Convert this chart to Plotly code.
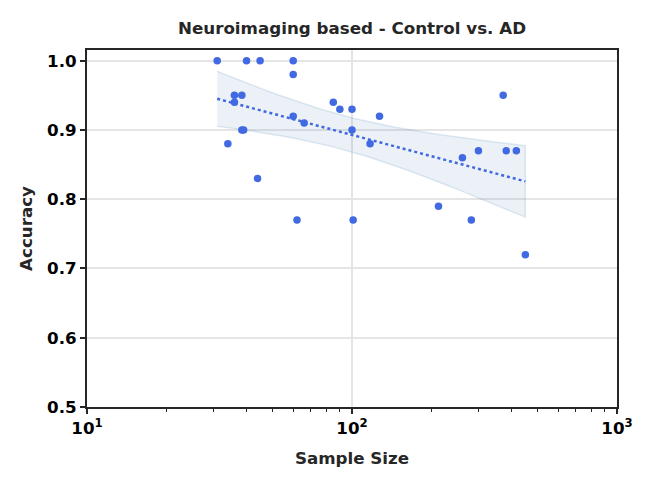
import numpy as np
import plotly.graph_objects as go

sample_size = [31, 40, 45, 60, 60, 36, 38.4, 36, 60, 66, 38.4, 39, 34, 44, 62, 101,
               85, 90, 100, 100, 117, 127, 372, 212, 282, 451, 261, 300, 382, 417]
accuracy = [1.00, 1.00, 1.00, 1.00, 0.98, 0.95, 0.95, 0.94, 0.92, 0.91, 0.90, 0.90, 0.88, 0.83, 0.77, 0.77,
            0.94, 0.93, 0.93, 0.90, 0.88, 0.92, 0.95, 0.79, 0.77, 0.72, 0.86, 0.87, 0.87, 0.87]

x_ticks = [10, 100, 1000]
x_tick_labels = ["10<sup>1</sup>", "10<sup>2</sup>", "10<sup>3</sup>"]
x_minor = [20, 30, 40, 50, 60, 70, 80, 90, 200, 300, 400, 500, 600, 700, 800, 900]

# regression of accuracy on log10(sample size), with 95% confidence band
x = np.array(sample_size, dtype=float)
y = np.array(accuracy, dtype=float)
u = np.log10(x)
n = len(u)
b, a = np.polyfit(u, y, 1)
resid = y - (a + b * u)
s = np.sqrt(np.sum(resid ** 2) / (n - 2))
sxx = np.sum((u - u.mean()) ** 2)
t_crit = 2.048
grid = np.linspace(x.min(), x.max(), 100)
gu = np.log10(grid)
fit = a + b * gu
half = t_crit * s * np.sqrt(1.0 / n + (gu - u.mean()) ** 2 / sxx)
upper = fit + half
lower = fit - half

blue = "#4169E1"
dark = "#262626"
font_family = "DejaVu Sans"
fs = 16.7

fig = go.Figure()
fig.add_trace(go.Scatter(
    x=list(grid) + list(grid[::-1]),
    y=list(upper) + list(lower[::-1]),
    fill="toself",
    fillcolor="rgba(70,130,180,0.11)",
    line=dict(color="rgba(70,130,180,0.16)", width=1.5),
    mode="lines", hoverinfo="skip", showlegend=False,
))
fig.add_trace(go.Scatter(
    x=grid, y=fit, mode="lines",
    line=dict(color=blue, width=2.5, dash="dot"),
    showlegend=False,
))
fig.add_trace(go.Scatter(
    x=sample_size, y=accuracy, mode="markers",
    marker=dict(color=blue, size=7.5, line=dict(width=0)),
    showlegend=False,
))

fig.update_layout(
    width=653, height=487,
    margin=dict(l=79, r=44, t=42, b=88),
    paper_bgcolor="white", plot_bgcolor="white",
    font=dict(family=font_family, size=fs, color="black"),
    title=dict(
        text="Neuroimaging based - Control vs. AD",
        x=0.5, xref="paper", xanchor="center",
        y=1 - 20 / 487, yref="container", yanchor="middle",
        font=dict(family=font_family, size=fs, color=dark, weight="bold"),
    ),
)
fig.update_xaxes(
    type="log", range=[1, 3],
    showline=True, linecolor=dark, linewidth=2, mirror=True,
    ticks="outside", ticklen=5, tickwidth=1.5, tickcolor=dark,
    tickvals=x_ticks, ticktext=x_tick_labels,
    tickfont=dict(family=font_family, size=fs, color="black", weight="bold"),
    showgrid=True, gridcolor="#e5e5e5", gridwidth=1.5,
    minor=dict(ticks="outside", ticklen=3, tickwidth=1, tickcolor=dark,
               tickvals=x_minor, showgrid=False),
    zeroline=False,
    title=dict(text="Sample Size", standoff=15,
               font=dict(family=font_family, size=fs, color=dark, weight="bold")),
)
fig.update_yaxes(
    range=[0.5, 1.0155], dtick=0.1, tick0=0.5, tickformat=".1f",
    showline=True, linecolor=dark, linewidth=2, mirror=True,
    ticks="outside", ticklen=5, tickwidth=1.5, tickcolor=dark,
    tickfont=dict(family=font_family, size=fs, color="black", weight="bold"),
    showgrid=True, gridcolor="#e5e5e5", gridwidth=1.5,
    zeroline=False,
    title=dict(text="Accuracy", standoff=10,
               font=dict(family=font_family, size=fs, color=dark, weight="bold")),
)

fig.write_html("out.html")
